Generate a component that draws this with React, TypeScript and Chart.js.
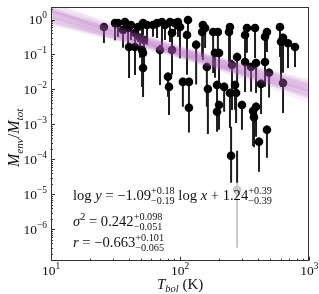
import React, { useEffect, useRef } from "react";
import { Chart, registerables } from "chart.js";
Chart.register(...registerables);

// ---- data ----
const tbol = [25.7, 31.3, 33.0, 36.1, 37.4, 39.5, 40.2, 41.6, 44.7, 44.7, 47.2, 48.9, 50.7, 50.7, 51.6, 51.6, 51.6, 52.5, 55.4, 61.6,
  66.2, 69.8, 72.3, 76.3, 83.4, 91.2, 86.5, 86.5, 80.5, 82.0, 99.7, 115, 113, 105, 117, 117, 133, 150, 156, 148,
  161, 164, 180, 186, 200, 193, 196, 200, 193, 219, 243, 239, 243, 252, 248, 266, 271, 276, 301, 318,
  318, 329, 354, 367, 373, 387, 387, 380, 408, 423, 454, 454, 470, 470, 488, 593, 604, 626, 626, 684, 775, 96.2];
const menv = [0.61, 0.79, 0.79, 0.50, 0.85, 0.57, 0.164, 0.70, 0.41, 0.164, 0.61, 0.30, 0.70, 0.134, 0.79, 0.110, 0.041, 0.26, 0.70, 0.70,
  0.79, 0.134, 0.85, 0.70, 0.85, 0.79, 0.41, 0.134, 0.023, 0.0118, 0.61, 0.97, 0.36, 0.0164, 0.0164, 0.0030, 0.19, 0.70, 0.57, 0.44,
  0.044, 0.0103, 0.44, 0.110, 0.110, 0.0134, 0.44, 0.0036, 0.0023, 0.0118, 0.61, 0.44, 0.0079, 0.050, 1.26e-4, 0.0134, 0.0079, 0.085, 0.0036, 0.36,
  0.061, 0.57, 0.044, 0.0024, 0.0016, 0.0032, 0.057, 0.57, 0.00032, 0.0144, 0.061, 0.32, 0.44, 0.0007, 0.030, 0.61, 0.23, 0.30, 0.0153, 0.21, 0.164, 0.85];
const errLoDex = [0.46, 0.49, 0.40, 0.51, 0.34, 0.57, 0.89, 0.43, 0.57, 0.80, 0.43, 0.57, 0.40, 1.06, 0.34, 0.86, 0.83, 0.71, 0.57, 0.34,
  0.43, 1.0, 0.71, 0.43, 0.57, 0.34, 0.57, 0.71, 0.57, 0.80, 0.89, 0.43, 1.14, 0.71, 0.86, 0.71, 1.14, 1.0, 0.57, 0.71,
  1.14, 1.29, 1.17, 0.71, 0.86, 1.0, 0.57, 0.71, 0.57, 0.71, 1.09, 0.86, 1.0, 1.29, 0.77, 0.71, 0.86, 0.86, 0.71, 1.14,
  0.86, 0.71, 0.71, 1.0, 0.86, 0.86, 0.86, 0.86, 0.86, 0.86, 0.71, 0.71, 0.57, 0.80, 0.71, 0.86, 1.29, 1.0, 0.86, 0.71, 0.57, 0.43];
const errHiDex = [0.1, 0.1, 0.1, 0.1, 0.1, 0.1, 0.12, 0.1, 0.1, 0.12, 0.1, 0.1, 0.1, 0.12, 0.1, 0.12, 0.12, 0.1, 0.1, 0.1,
  0.1, 0.15, 0.1, 0.1, 0.1, 0.1, 0.1, 0.12, 0.12, 0.12, 0.1, 0.1, 0.12, 0.12, 0.12, 0.12, 0.12, 0.1, 0.1, 0.1,
  0.12, 0.12, 0.1, 0.12, 0.12, 0.12, 0.1, 0.12, 0.12, 0.12, 0.1, 0.1, 0.12, 0.15, 0.83, 0.12, 0.12, 0.12, 0.12, 0.1,
  0.12, 0.1, 0.12, 0.12, 0.12, 0.12, 0.12, 0.1, 0.12, 0.12, 0.12, 0.1, 0.1, 0.12, 0.12, 0.1, 0.1, 0.1, 0.12, 0.1, 0.1, 0.1];

const greyT = [276];
const greyM = [1.35e-5];
const greyLoDex = [1.66];
const greyHiDex = [0.2];

const barOnlyT = [276];
const barOnlyTop = [1.75e-4];
const barOnlyBottom = [2.13e-5];

const fitSlopes = [-1.34, -1.28, -1.22, -1.18, -1.15, -1.12, -1.10, -1.08, -1.06, -1.04, -1.01, -0.98, -0.94, -0.90, -0.85, -1.25, -1.13, -1.09, -1.02, -0.96, -1.20, -1.00];
const fitIntercepts = [1.79, 1.52, 1.62, 1.37, 1.44, 1.18, 1.41, 1.20, 1.28, 1.04, 1.12, 0.96, 1.02, 0.82, 0.79, 1.54, 1.35, 1.17, 1.22, 0.86, 1.46, 1.06];

const xDecades = [1, 2, 3];
const yDecades = [0, -1, -2, -3, -4, -5, -6];
const xMin = 10, xMax = 1000, yMin = 1.26e-7, yMax = 2.28;

const annotLines = [
  [{ t: "log " }, { t: "y", it: true }, { t: " = −1.09" }, { sup: "+0.18", sub: "−0.19" }, { t: " log " }, { t: "x", it: true }, { t: " + 1.24" }, { sup: "+0.39", sub: "−0.39" }],
  [{ t: "σ", it: true }, { sup: "2" }, { t: " = 0.242" }, { sup: "+0.098", sub: "−0.051" }],
  [{ t: "r", it: true }, { t: " = −0.663" }, { sup: "+0.101", sub: "−0.065" }],
];

// ---- drawing helpers ----
const FAM = "'Liberation Serif', 'Times New Roman', serif";
const fnt = (s: number, it?: boolean) => `${it ? "italic " : ""}${s}px ${FAM}`;

type Piece = { t?: string; it?: boolean; sup?: string; sub?: string; scale?: number; dy?: number };

function math(ctx: CanvasRenderingContext2D, pieces: Piece[], x: number, y: number, size: number, draw: boolean) {
  let cx = x;
  for (const p of pieces) {
    if (p.t !== undefined) {
      const s = size * (p.scale ?? 1);
      ctx.font = fnt(s, p.it);
      if (draw) ctx.fillText(p.t, cx, y + (p.dy ?? 0) * size);
      cx += ctx.measureText(p.t).width;
    } else {
      const s = size * 0.7;
      ctx.font = fnt(s);
      let w = 0;
      if (p.sup) {
        if (draw) ctx.fillText(p.sup, cx, y - 0.42 * size);
        w = Math.max(w, ctx.measureText(p.sup).width);
      }
      if (p.sub) {
        if (draw) ctx.fillText(p.sub, cx, y + 0.3 * size);
        w = Math.max(w, ctx.measureText(p.sub).width);
      }
      cx += w;
    }
  }
  return cx - x;
}

const expStr = (k: number) => (k < 0 ? "−" + String(-k) : String(k));

const errorBarPlugin = {
  id: "errorBars",
  beforeDatasetsDraw(chart: any) {
    const { ctx, chartArea: a } = chart;
    const x = chart.scales.x, y = chart.scales.y;
    ctx.save();
    ctx.beginPath();
    ctx.rect(a.left, a.top, a.right - a.left, a.bottom - a.top);
    ctx.clip();
    ctx.lineWidth = 2;
    ctx.strokeStyle = "#c8c8c8";
    greyT.forEach((t, i) => {
      const px = x.getPixelForValue(t);
      ctx.beginPath();
      ctx.moveTo(px, y.getPixelForValue(greyM[i] * 10 ** greyHiDex[i]));
      ctx.lineTo(px, y.getPixelForValue(greyM[i] / 10 ** greyLoDex[i]));
      ctx.stroke();
    });
    ctx.strokeStyle = "#1c1c1c";
    tbol.forEach((t, i) => {
      const px = x.getPixelForValue(t);
      ctx.beginPath();
      ctx.moveTo(px, y.getPixelForValue(menv[i] * 10 ** errHiDex[i]));
      ctx.lineTo(px, y.getPixelForValue(menv[i] / 10 ** errLoDex[i]));
      ctx.stroke();
    });
    barOnlyT.forEach((t, i) => {
      const px = x.getPixelForValue(t);
      ctx.beginPath();
      ctx.moveTo(px, y.getPixelForValue(barOnlyTop[i]));
      ctx.lineTo(px, y.getPixelForValue(barOnlyBottom[i]));
      ctx.stroke();
    });
    ctx.restore();
  },
};

const axesPlugin = {
  id: "axesDeco",
  afterDraw(chart: any) {
    const { ctx, chartArea: a } = chart;
    const x = chart.scales.x, y = chart.scales.y;
    ctx.save();
    ctx.strokeStyle = "#333";
    ctx.lineWidth = 1;
    ctx.strokeRect(Math.round(a.left) + 0.5, Math.round(a.top) + 0.5, Math.round(a.right - a.left) - 1, Math.round(a.bottom - a.top) - 1);
    ctx.beginPath();
    for (let d = 1; d <= 3; d++) {
      for (let m = 1; m <= 9; m++) {
        const v = m * 10 ** d;
        if (v < xMin || v > xMax) continue;
        const px = Math.round(x.getPixelForValue(v)) + 0.5;
        const len = m === 1 ? 4 : 2;
        ctx.moveTo(px, a.bottom);
        ctx.lineTo(px, a.bottom - len);
      }
    }
    for (let d = -7; d <= 0; d++) {
      for (let m = 1; m <= 9; m++) {
        const v = m * 10 ** d;
        if (v < yMin || v > yMax) continue;
        const py = Math.round(y.getPixelForValue(v)) + 0.5;
        const len = m === 1 ? 4 : 2;
        ctx.moveTo(a.left, py);
        ctx.lineTo(a.left + len, py);
      }
    }
    ctx.stroke();

    ctx.fillStyle = "#111";
    ctx.textBaseline = "alphabetic";
    ctx.textAlign = "left";
    const TS = 13.5;
    yDecades.forEach((k) => {
      const py = y.getPixelForValue(10 ** k);
      const pieces: Piece[] = [{ t: "10" }, { t: expStr(k), scale: 0.7, dy: -0.42 }];
      const w = math(ctx, pieces, 0, 0, TS, false);
      math(ctx, pieces, a.left - 4 - w, py + 4.5, TS, true);
    });
    xDecades.forEach((k) => {
      const px = x.getPixelForValue(10 ** k);
      const pieces: Piece[] = [{ t: "10" }, { t: expStr(k), scale: 0.7, dy: -0.42 }];
      const w = math(ctx, pieces, 0, 0, TS, false);
      math(ctx, pieces, px - w / 2, a.bottom + 14, TS, true);
    });
    const xl: Piece[] = [{ t: "T", it: true }, { t: "bol", it: true, scale: 0.7, dy: 0.22 }, { t: " (K)" }];
    const xw = math(ctx, xl, 0, 0, 15, false);
    math(ctx, xl, (a.left + a.right) / 2 - xw / 2, 289, 15, true);
    const yl: Piece[] = [{ t: "M", it: true }, { t: "env", it: true, scale: 0.7, dy: 0.22 }, { t: "/" }, { t: "M", it: true }, { t: "tot", it: true, scale: 0.7, dy: 0.22 }];
    const yw = math(ctx, yl, 0, 0, 16, false);
    ctx.save();
    ctx.translate(19, (a.top + a.bottom) / 2 + 4);
    ctx.rotate(-Math.PI / 2);
    math(ctx, yl, -yw / 2, 0, 16, true);
    ctx.restore();
    const baselines = [200, 226, 247];
    annotLines.forEach((ln, i) => {
      math(ctx, ln as Piece[], 73, baselines[i], 14.6, true);
    });
    ctx.restore();
  },
};

export default function App() {
  const ref = useRef<HTMLCanvasElement>(null);
  useEffect(() => {
    const canvas = ref.current!;
    const bandSets = fitSlopes.map((a, i) => ({
      type: "line" as const,
      data: [
        { x: xMin, y: 10 ** (a * Math.log10(xMin) + fitIntercepts[i]) },
        { x: xMax, y: 10 ** (a * Math.log10(xMax) + fitIntercepts[i]) },
      ],
      borderColor: "rgba(170, 95, 185, 0.085)",
      borderWidth: 4,
      pointRadius: 0,
      fill: false,
    }));
    const chart = new Chart(canvas, {
      type: "scatter",
      data: {
        datasets: [
          ...bandSets,
          {
            type: "scatter" as const,
            data: tbol.map((t, i) => ({ x: t, y: menv[i] })),
            backgroundColor: "#000",
            borderWidth: 0,
            pointRadius: 4.3,
          },
          {
            type: "scatter" as const,
            data: greyT.map((t, i) => ({ x: t, y: greyM[i] })),
            backgroundColor: "#c8c8c8",
            borderWidth: 0,
            pointRadius: 4.3,
          },
        ] as any,
      },
      options: {
        animation: false,
        responsive: false,
        devicePixelRatio: 1,
        layout: { padding: { left: 51, top: 7, right: 9.7, bottom: 33.3 } },
        plugins: { legend: { display: false }, tooltip: { enabled: false } },
        scales: {
          x: { type: "logarithmic", min: xMin, max: xMax, display: false },
          y: { type: "logarithmic", min: yMin, max: yMax, display: false },
        },
      },
      plugins: [errorBarPlugin, axesPlugin],
    });
    return () => chart.destroy();
  }, []);
  return (
    <div style={{ position: "absolute", left: 0, top: 0, width: 319, height: 294, background: "#fff" }}>
      <canvas ref={ref} width={319} height={294} style={{ width: 319, height: 294, display: "block" }} />
    </div>
  );
}
